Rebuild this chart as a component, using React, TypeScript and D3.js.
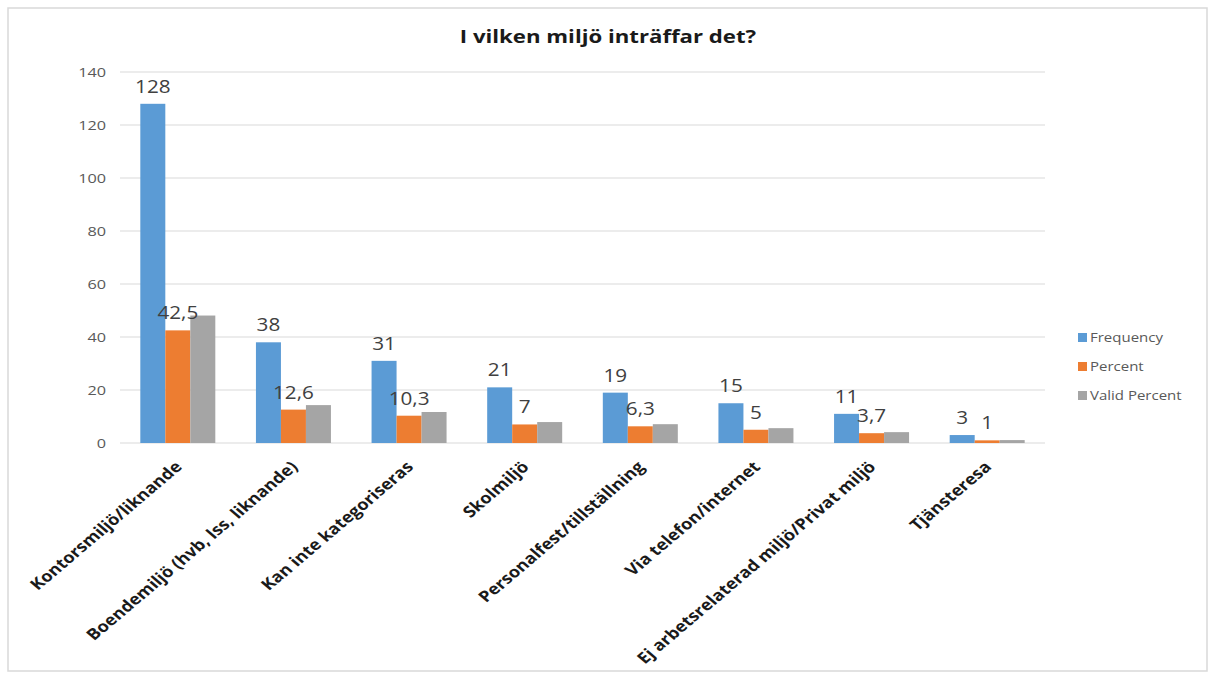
import React from "react";
import * as d3 from "d3";

const categories = [
  "Kontorsmiljö/liknande",
  "Boendemiljö (hvb, lss, liknande)",
  "Kan inte kategoriseras",
  "Skolmiljö",
  "Personalfest/tillställning",
  "Via telefon/internet",
  "Ej arbetsrelaterad miljö/Privat miljö",
  "Tjänsteresa",
];
const frequency = [128, 38, 31, 21, 19, 15, 11, 3];
const percent = [42.5, 12.6, 10.3, 7, 6.3, 5, 3.7, 1];
const validPercent = [48.1, 14.3, 11.7, 7.9, 7.1, 5.6, 4.1, 1.1];
const percentLabels = ["42,5", "12,6", "10,3", "7", "6,3", "5", "3,7", "1"];
const seriesNames = ["Frequency", "Percent", "Valid Percent"];
const yTicks = [0, 20, 40, 60, 80, 100, 120, 140];
const title = "I vilken miljö inträffar det?";

const colors = ["#5B9BD5", "#ED7D31", "#A5A5A5"];
const FONT = "'Open Sans', 'DejaVu Sans', sans-serif";
const SX = 1.2;

function T(props: any) {
  const { x, y, sx = SX, children, ...rest } = props;
  return (
    <text transform={`translate(${x},${y}) scale(${sx},1)`} {...rest}>
      {children}
    </text>
  );
}

export default function App() {
  const W = 1208, H = 673;
  const left = 120, right = 1045, top = 72, bottom = 443;
  const x = d3.scaleBand<string>().domain(categories).range([left, right]);
  const y = d3.scaleLinear().domain([0, 140]).range([bottom, top]);
  const barW = 25;
  const series = [frequency, percent, validPercent];

  return (
    <svg width={W} height={H} style={{ position: "absolute", left: 0, top: 0, background: "#fff" }} fontFamily={FONT}>
      <rect x={8} y={8} width={1199} height={663} fill="#fff" stroke="#D9D9D9" strokeWidth={1.5} />
      <T x={608} y={43} textAnchor="middle" fontSize={18.5} fontWeight="bold" fill="#1a1a1a">{title}</T>
      {yTicks.map((t) => (
        <g key={t}>
          <line x1={left} x2={right} y1={y(t)} y2={y(t)} stroke="#D9D9D9" strokeWidth={1} />
          <T x={106} y={y(t)} sx={1.25} dy="0.35em" textAnchor="end" fontSize={13} fill="#595959">{t}</T>
        </g>
      ))}
      {categories.map((c, i) => {
        const cx = x(c)! + x.bandwidth() / 2;
        return (
          <g key={c}>
            {series.map((s, k) => {
              const bx = cx - 1.5 * barW + k * barW;
              return <rect key={k} x={bx} y={y(s[i])} width={barW} height={bottom - y(s[i])} fill={colors[k]} />;
            })}
            <T x={cx - barW} y={y(frequency[i]) - 11} sx={1.15} textAnchor="middle" fontSize={18} fill="#404040">{frequency[i]}</T>
            <T x={cx} y={y(percent[i]) - 11} sx={1.15} textAnchor="middle" fontSize={18} fill="#404040">{percentLabels[i]}</T>
            <text transform={`translate(${cx - 4},${460}) scale(1.18,1) rotate(-45)`} textAnchor="end" dy="0.72em" fontSize={15.5} fontWeight="bold" fill="#1a1a1a">{c}</text>
          </g>
        );
      })}
      {seriesNames.map((n, k) => (
        <g key={n} transform={`translate(1078,${338 + k * 29})`}>
          <rect x={0} y={-5} width={9} height={9} fill={colors[k]} />
          <T x={12} y={0} dy="0.35em" fontSize={12.5} fill="#595959">{n}</T>
        </g>
      ))}
    </svg>
  );
}
